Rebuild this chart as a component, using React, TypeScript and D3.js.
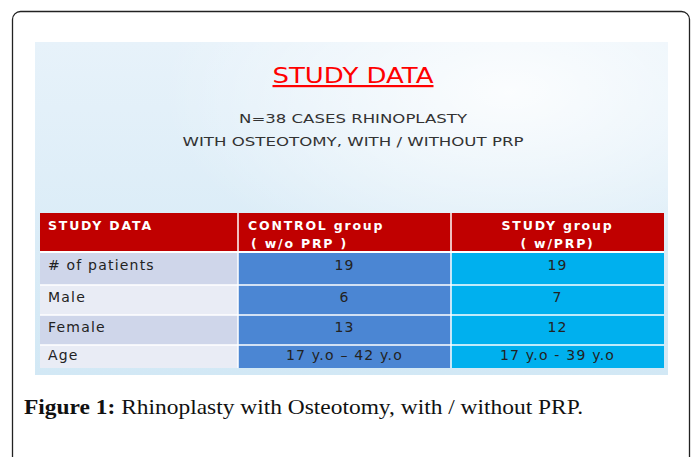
import React, { useEffect, useRef } from 'react';
import * as d3 from 'd3';

// table content
const columns = ['STUDY DATA', 'CONTROL group', 'STUDY group'];
const columnSub = ['', '( w/o PRP )', '( w/PRP)'];
const rowLabels = ['# of patients', 'Male', 'Female', 'Age'];
const controlValues = ['19', '6', '13', '17 y.o \u2013 42 y.o'];
const studyValues = ['19', '7', '12', '17 y.o - 39 y.o'];

const title = 'STUDY DATA';
const subtitle = ['N=38 CASES RHINOPLASTY', 'WITH OSTEOTOMY, WITH / WITHOUT PRP'];

const W = 692;
const H = 457;
const SLIDE_FONT = '"DejaVu Sans", Verdana, sans-serif';

const App = () => {
  const ref = useRef<SVGSVGElement>(null);

  useEffect(() => {
    const svg = d3.select(ref.current);
    svg.selectAll('*').remove();

    const defs = svg.append('defs');
    const lg = defs.append('linearGradient').attr('id', 'bg').attr('x1', 0).attr('y1', 0).attr('x2', 0).attr('y2', 1);
    lg.append('stop').attr('offset', 0).attr('stop-color', '#e7f2fa');
    lg.append('stop').attr('offset', 1).attr('stop-color', '#d2e8f5');
    const rg = defs.append('radialGradient').attr('id', 'glow').attr('cx', 0.75).attr('cy', 0.15).attr('r', 0.55);
    rg.append('stop').attr('offset', 0).attr('stop-color', '#ffffff').attr('stop-opacity', 0.85);
    rg.append('stop').attr('offset', 1).attr('stop-color', '#ffffff').attr('stop-opacity', 0);

    // outer frame
    svg.append('rect')
      .attr('x', 12.5).attr('y', 11.5).attr('width', 677).attr('height', 470)
      .attr('rx', 8).attr('fill', '#fff').attr('stroke', '#222').attr('stroke-width', 1.3);

    // slide background
    const slide = { x: 35, y: 42, w: 633, h: 333 };
    svg.append('rect').attr('x', slide.x).attr('y', slide.y).attr('width', slide.w).attr('height', slide.h).attr('fill', 'url(#bg)');
    svg.append('rect').attr('x', slide.x).attr('y', slide.y).attr('width', slide.w).attr('height', slide.h).attr('fill', 'url(#glow)');

    const cx = 353;
    svg.append('text')
      .attr('x', cx).attr('y', 83)
      .attr('text-anchor', 'middle')
      .attr('font-family', SLIDE_FONT).attr('font-size', 22)
      .attr('fill', '#ff0000')
      .attr('text-decoration', 'underline')
      .attr('textLength', 161).attr('lengthAdjust', 'spacingAndGlyphs')
      .text(title);

    svg.selectAll('text.sub').data(subtitle).join('text')
      .attr('class', 'sub')
      .attr('x', cx).attr('y', (d, i) => 123 + i * 23)
      .attr('text-anchor', 'middle')
      .attr('font-family', SLIDE_FONT).attr('font-size', 12)
      .attr('fill', '#333')
      .attr('textLength', (d, i) => (i === 0 ? 228 : 341))
      .attr('lengthAdjust', 'spacingAndGlyphs')
      .text(d => d);

    // table geometry
    const colEdges = [40, 238, 451, 664];
    const rowHeights = [39, 33, 30, 30, 23];
    const rowEdges = [213, ...Array.from(d3.cumsum(rowHeights)).map(v => 213 + v)];
    const textDrop = [18, 17, 17, 15];

    const colFill = [
      (r: number) => (r % 2 === 0 ? '#cfd6ea' : '#e9ecf5'),
      () => '#4b86d3',
      () => '#00b0ee',
    ];

    const cells: { r: number; c: number; text: string }[] = [];
    rowLabels.forEach((lab, r) => {
      cells.push({ r, c: 0, text: lab });
      cells.push({ r, c: 1, text: controlValues[r] });
      cells.push({ r, c: 2, text: studyValues[r] });
    });

    const table = svg.append('g');
    // header
    table.selectAll('rect.head').data(columns).join('rect')
      .attr('class', 'head')
      .attr('x', (d, i) => colEdges[i]).attr('y', rowEdges[0])
      .attr('width', (d, i) => colEdges[i + 1] - colEdges[i])
      .attr('height', rowEdges[1] - rowEdges[0])
      .attr('fill', '#c00000');

    table.selectAll('rect.cell').data(cells).join('rect')
      .attr('class', 'cell')
      .attr('x', d => colEdges[d.c]).attr('y', d => rowEdges[d.r + 1])
      .attr('width', d => colEdges[d.c + 1] - colEdges[d.c])
      .attr('height', d => rowEdges[d.r + 2] - rowEdges[d.r + 1])
      .attr('fill', d => colFill[d.c](d.r));

    // white grid lines
    table.selectAll('line.v').data(colEdges.slice(1, -1)).join('line')
      .attr('x1', d => d).attr('x2', d => d)
      .attr('y1', rowEdges[0]).attr('y2', rowEdges[rowEdges.length - 1])
      .attr('stroke', '#fff').attr('stroke-width', 1.5);
    table.selectAll('line.h').data(rowEdges.slice(1, -1)).join('line')
      .attr('x1', colEdges[0]).attr('x2', colEdges[colEdges.length - 1])
      .attr('y1', d => d).attr('y2', d => d)
      .attr('stroke', '#fff').attr('stroke-width', (d, i) => (i === 0 ? 2 : 1.5));

    // header text
    const headX = (i: number) => (i === 0 ? 48 : i === 1 ? 248 : (colEdges[2] + colEdges[3]) / 2);
    const headAnchor = (i: number) => (i === 2 ? 'middle' : 'start');
    table.selectAll('text.h1').data(columns).join('text')
      .attr('class', 'h1')
      .attr('x', (d, i) => headX(i)).attr('y', 230)
      .attr('text-anchor', (d, i) => headAnchor(i))
      .attr('font-family', SLIDE_FONT).attr('font-size', 12.5).attr('font-weight', 'bold')
      .attr('letter-spacing', 1.8)
      .attr('fill', '#fff')
      .text(d => d);
    table.selectAll('text.h2').data(columnSub).join('text')
      .attr('class', 'h2')
      .attr('x', (d, i) => headX(i) + (i === 1 ? 3 : 0)).attr('y', 248)
      .attr('text-anchor', (d, i) => headAnchor(i))
      .attr('font-family', SLIDE_FONT).attr('font-size', 12.5).attr('font-weight', 'bold')
      .attr('letter-spacing', 1.8)
      .attr('fill', '#fff')
      .text(d => d);

    // body text
    table.selectAll('text.cell').data(cells).join('text')
      .attr('class', 'cell')
      .attr('x', d => (d.c === 0 ? 48 : (colEdges[d.c] + colEdges[d.c + 1]) / 2))
      .attr('y', d => rowEdges[d.r + 1] + textDrop[d.r])
      .attr('text-anchor', d => (d.c === 0 ? 'start' : 'middle'))
      .attr('font-family', SLIDE_FONT).attr('font-size', 14)
      .attr('letter-spacing', 1.2)
      .attr('fill', '#222')
      .text(d => d.text);

    // caption
    const cap = svg.append('text')
      .attr('x', 24).attr('y', 414)
      .attr('font-family', '"Liberation Serif", "DejaVu Serif", serif')
      .attr('font-size', 21)
      .attr('fill', '#111')
      .attr('textLength', 559).attr('lengthAdjust', 'spacingAndGlyphs');
    cap.append('tspan').attr('font-weight', 'bold').text('Figure 1:');
    cap.append('tspan').text(' Rhinoplasty with Osteotomy, with / without PRP.');
  }, []);

  return (
    <svg ref={ref} width={W} height={H} style={{ position: 'absolute', left: 0, top: 0, background: '#fff' }} />
  );
};

export default App;
